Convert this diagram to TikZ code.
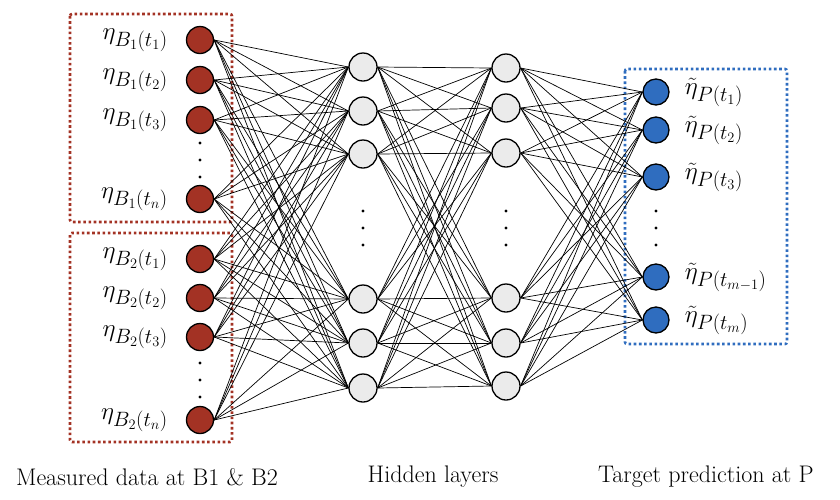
\documentclass[tikz,border=0pt]{standalone}
\usetikzlibrary{positioning}
\DeclareMathSizes{27}{27}{20}{15}
\definecolor{inred}{HTML}{A33224}
\definecolor{outblue}{HTML}{2F6DBF}
\definecolor{hidgray}{HTML}{EBEBEB}
\tikzset{
  neuron/.style={circle,draw=black,line width=1.3pt,inner sep=0pt},
  inneuron/.style={neuron,fill=inred,minimum size=27pt},
  hidneuron/.style={neuron,fill=hidgray,minimum size=28pt},
  outneuron/.style={neuron,fill=outblue,minimum size=26pt},
  link/.style={line width=0.7pt,black},
  redbox/.style={draw=inred,line width=2.6pt,dash pattern=on 2.6pt off 2.6pt,rounded corners=2pt},
  bluebox/.style={draw=outblue,line width=2.6pt,dash pattern=on 2.6pt off 2.6pt,rounded corners=2pt},
  lab/.style={inner sep=0pt,font=\fontsize{27}{30}\selectfont},
  caption/.style={font=\fontsize{24}{28}\selectfont}
}
\def\threedots{%
    \fill (0,-17) circle (1.7pt);
    \fill (0,0) circle (1.7pt);
    \fill (0,17) circle (1.7pt);
}
\begin{document}
\begin{tikzpicture}[x=1pt,y=-1pt]
\useasboundingbox (0,0) rectangle (840,499);
%boxes
\draw[redbox] (70,14) rectangle (232,222);
\draw[redbox] (70,233) rectangle (232,442);
\draw[bluebox] (625,69) rectangle (787,344);
%layers
\foreach \y [count=\i] in {40,80,120,199,259,298,337,420}
  \node[inneuron] (i\i) at (200,\y) {};
\foreach \y [count=\i] in {67,111,154,299,343,388}
  \node[hidneuron] (h\i) at (363,\y) {};
\foreach \y [count=\i] in {68,108,153,298,343,386}
  \node[hidneuron] (g\i) at (506,\y) {};
\foreach \y [count=\i] in {92,130,177,277,320}
  \node[outneuron] (o\i) at (656,\y) {};
%links
\foreach \a in {1,...,8}
  \foreach \b in {1,...,6}
    \draw[link] (i\a.east) -- (h\b.west);
\foreach \a in {1,...,6}
  \foreach \b in {1,...,6}
    \draw[link] (h\a.east) -- (g\b.west);
\foreach \a in {1,...,6}
  \foreach \b in {1,...,5}
    \draw[link] (g\a.east) -- (o\b.west);
%dots
\foreach \x/\y in {200/160,200/380,363/228,506/228,656/228}
{
\begin{scope}[shift={(\x,\y)}]
\threedots
\end{scope}
}
%labels
\foreach \i/\s in {1/B_1(t_1),2/B_1(t_2),3/B_1(t_3),4/B_1(t_n),5/B_2(t_1),6/B_2(t_2),7/B_2(t_3),8/B_2(t_n)}
  \node[lab,left=18pt of i\i] (li\i) {$\eta_{\s}$};
\foreach \i/\s in {1/P(t_1),2/P(t_2),3/P(t_3),4/P(t_{m-1}),5/P(t_m)}
  \node[lab,right=15pt of o\i] (lo\i) {$\tilde{\eta}_{\s}$};
%captions
\node[caption] (cin) at (147,477) {Measured data at B1 \& B2};
\node[caption] (chid) at (433,477) {Hidden layers};
\node[caption] (cout) at (706,477) {Target prediction at P};
\end{tikzpicture}
\end{document}
